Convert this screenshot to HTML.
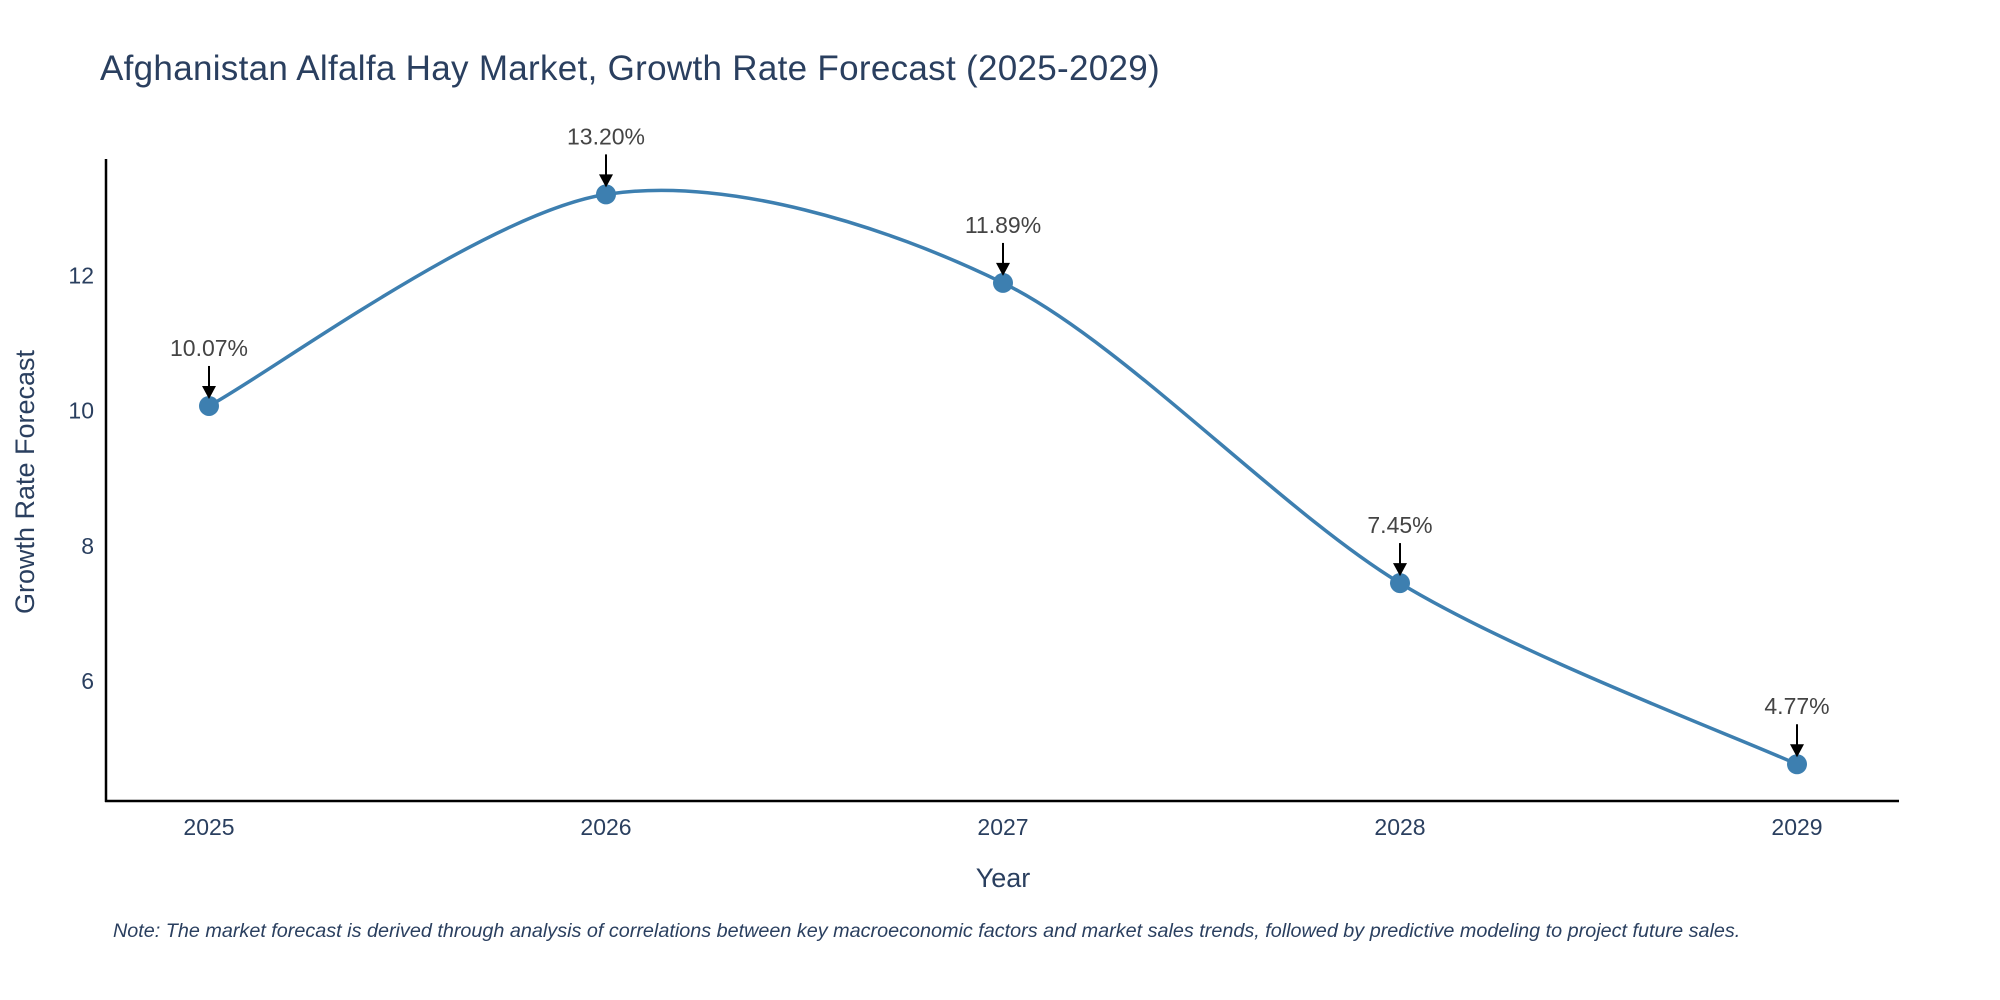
<!DOCTYPE html>
<html><head><meta charset="utf-8"><style>
html,body{margin:0;padding:0;background:#fff;}
svg{display:block;font-family:"Liberation Sans",sans-serif;}
</style></head><body>
<svg id="chart" width="2000" height="1000" viewBox="0 0 2000 1000">
<text x="100" y="80" font-size="35" letter-spacing="0.3" fill="#2a3f5f">Afghanistan Alfalfa Hay Market, Growth Rate Forecast (2025-2029)</text>
<g id="yticks"></g><g id="xticks"></g>
<line x1="106" y1="159" x2="106" y2="802" stroke="#000" stroke-width="2.5"/>
<line x1="105" y1="801" x2="1899" y2="801" stroke="#000" stroke-width="2.5"/>
<path id="line" fill="none" stroke="#3d7fb0" stroke-width="3.5"/>
<g id="points"></g><g id="annots"></g>
<text x="1003" y="887" font-size="27" fill="#2a3f5f" text-anchor="middle">Year</text>
<text transform="translate(34,482) rotate(-90)" font-size="27" fill="#2a3f5f" text-anchor="middle">Growth Rate Forecast</text>
<text x="113" y="937" font-size="19.8" font-style="italic" fill="#2a3f5f">Note: The market forecast is derived through analysis of correlations between key macroeconomic factors and market sales trends, followed by predictive modeling to project future sales.</text>
</svg>
<script>
const categories = [2025, 2026, 2027, 2028, 2029];
const values = [10.07, 13.20, 11.89, 7.45, 4.77];
const labels = ["10.07%", "13.20%", "11.89%", "7.45%", "4.77%"];
const yTickValues = [6, 8, 10, 12];

const NS = "http://www.w3.org/2000/svg";
function xs(c){ return 209 + (c - 2025) * 397; }
function ys(v){ return 410.7 - (v - 10) * 67.6; }
function mk(tag, attrs, parent){ const e=document.createElementNS(NS,tag); for(const k in attrs) e.setAttribute(k,attrs[k]); parent.appendChild(e); return e; }

const yt=document.getElementById('yticks');
yTickValues.forEach(v=>{
  const t=mk('text',{x:94,y:ys(v)+8,'font-size':23,fill:'#2a3f5f','text-anchor':'end'},yt);
  
  
  t.textContent=v;
});
const xt=document.getElementById('xticks');
categories.forEach(c=>{
  const t=mk('text',{x:xs(c),y:835,'font-size':23,fill:'#2a3f5f','text-anchor':'middle'},xt);
  
  
  t.textContent=c;
});

const P=categories.map((c,i)=>[xs(c),ys(values[i])]);
let d=`M${P[0][0]},${P[0][1]}`;
const s=0.15;
for(let i=0;i<P.length-1;i++){
  const p0=P[Math.max(i-1,0)],p1=P[i],p2=P[i+1],p3=P[Math.min(i+2,P.length-1)];
  const c1=[p1[0]+(p2[0]-p0[0])*s,p1[1]+(p2[1]-p0[1])*s];
  const c2=[p2[0]-(p3[0]-p1[0])*s,p2[1]-(p3[1]-p1[1])*s];
  d+=` C${c1[0]},${c1[1]} ${c2[0]},${c2[1]} ${p2[0]},${p2[1]}`;
}
document.getElementById('line').setAttribute('d',d);

const pts=document.getElementById('points'), an=document.getElementById('annots');
P.forEach((p,i)=>{
  const c=mk('circle',{cx:p[0],cy:p[1],r:10,fill:'#3d7fb0'},pts);
  
  
  const l=mk('line',{x1:p[0],y1:p[1]-40,x2:p[0],y2:p[1]-18,stroke:'#000','stroke-width':2},an);
  
  
  const h=mk('path',{d:`M${p[0]-7},${p[1]-20} L${p[0]+7},${p[1]-20} L${p[0]},${p[1]-7} Z`,fill:'#000'},an);
  
  
  const t=mk('text',{x:p[0],y:p[1]-50,'font-size':23,fill:'#444','text-anchor':'middle'},an);
  
  
  t.textContent=labels[i];
});
</script>
</body></html>
